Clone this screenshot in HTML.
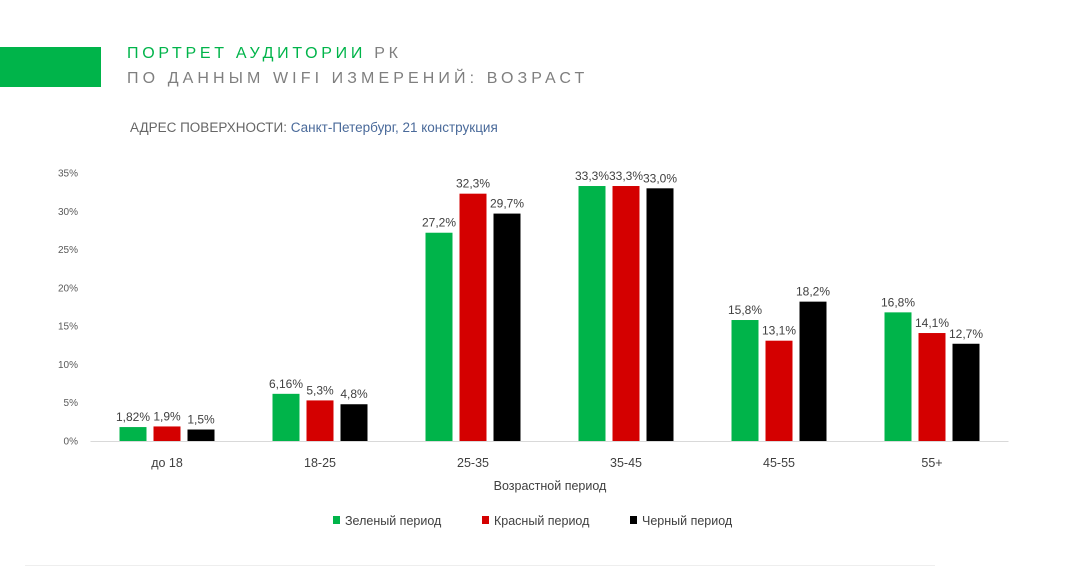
<!DOCTYPE html>
<html><head><meta charset="utf-8"><style>
body{margin:0;width:1080px;height:568px;background:#fff;overflow:hidden;font-family:"Liberation Sans",sans-serif;position:relative}
.t{position:absolute;white-space:nowrap}
</style></head><body>
<div style="position:absolute;left:0;top:47px;width:101px;height:40px;background:#00b44a"></div>
<div class="t" style="left:127px;top:45px;font-size:16px;letter-spacing:3.7px;color:#00b44a">ПОРТРЕТ АУДИТОРИИ <span style="color:#7f7f7f">РК</span></div>
<div class="t" style="left:127px;top:70px;font-size:16px;letter-spacing:4.1px;color:#7f7f7f">ПО ДАННЫМ WIFI ИЗМЕРЕНИЙ: ВОЗРАСТ</div>
<div class="t" style="left:130px;top:120px;font-size:13.5px;color:#666">АДРЕС ПОВЕРХНОСТИ: <span style="color:#4a6a9a">Санкт-Петербург, 21 конструкция</span></div>
<svg id="c" width="1080" height="568" style="position:absolute;left:0;top:0"></svg>
<script>
const categories=["до 18","18-25","25-35","35-45","45-55","55+"];
const greenVals=[1.82,6.16,27.2,33.3,15.8,16.8];
const redVals=[1.9,5.3,32.3,33.3,13.1,14.1];
const blackVals=[1.5,4.8,29.7,33.0,18.2,12.7];
const greenLabels=["1,82%","6,16%","27,2%","33,3%","15,8%","16,8%"];
const redLabels=["1,9%","5,3%","32,3%","33,3%","13,1%","14,1%"];
const blackLabels=["1,5%","4,8%","29,7%","33,0%","18,2%","12,7%"];
const yTicks=[0,5,10,15,20,25,30,35];
const seriesNames=["Зеленый период","Красный период","Черный период"];
const svg=document.getElementById('c');const NS='http://www.w3.org/2000/svg';
const x0=90.5,gw=153,y0=441,ppu=268/35;
const y=v=>y0-v*ppu;const xc=i=>x0+gw*(i+0.5);
function mk(t,a){const e=document.createElementNS(NS,t);for(const k in a)e.setAttribute(k,a[k]);svg.appendChild(e);return e;}
yTicks.forEach(v=>{const e=mk('text',{x:78,y:y(v)+3.5,'text-anchor':'end','font-size':10,fill:'#595959','font-family':'Liberation Sans'});e.textContent=v+'%';

});
const ax=mk('line',{x1:x0,x2:x0+gw*6,y1:y0+0.5,y2:y0+0.5,stroke:'#d9d9d9'});


const series=[[greenVals,greenLabels,'#00b44a'],[redVals,redLabels,'#d40000'],[blackVals,blackLabels,'#000']];
categories.forEach((c,i)=>{
 series.forEach((s,j)=>{const cx=xc(i)+(j-1)*34;const v=s[0][i];
  const r=mk('rect',{x:cx-13.5,y:y(v),width:27,height:v*ppu,fill:s[2]});
  
  
  const t=mk('text',{x:cx,y:y(v)-6,'text-anchor':'middle','font-size':12,fill:'#404040','font-family':'Liberation Sans'});t.textContent=s[1][i];
  
  });
 const l=mk('text',{x:xc(i),y:467,'text-anchor':'middle','font-size':12.5,fill:'#404040','font-family':'Liberation Sans'});l.textContent=c;
 
 
});
const at=mk('text',{x:550,y:490,'text-anchor':'middle','font-size':12.5,fill:'#404040','font-family':'Liberation Sans'});at.textContent='Возрастной период';


const lx=[333,482,630];const lc=['#00b44a','#d40000','#000'];
seriesNames.forEach((n,i)=>{const r=mk('rect',{x:lx[i],y:516,width:7,height:8,fill:lc[i]});
 
 
 const t=mk('text',{x:lx[i]+12,y:525,'font-size':12.5,fill:'#404040','font-family':'Liberation Sans'});t.textContent=n;
 
 });
const b=mk('line',{x1:25,x2:935,y1:565.5,y2:565.5,stroke:'#eee'});


</script>
</body></html>
